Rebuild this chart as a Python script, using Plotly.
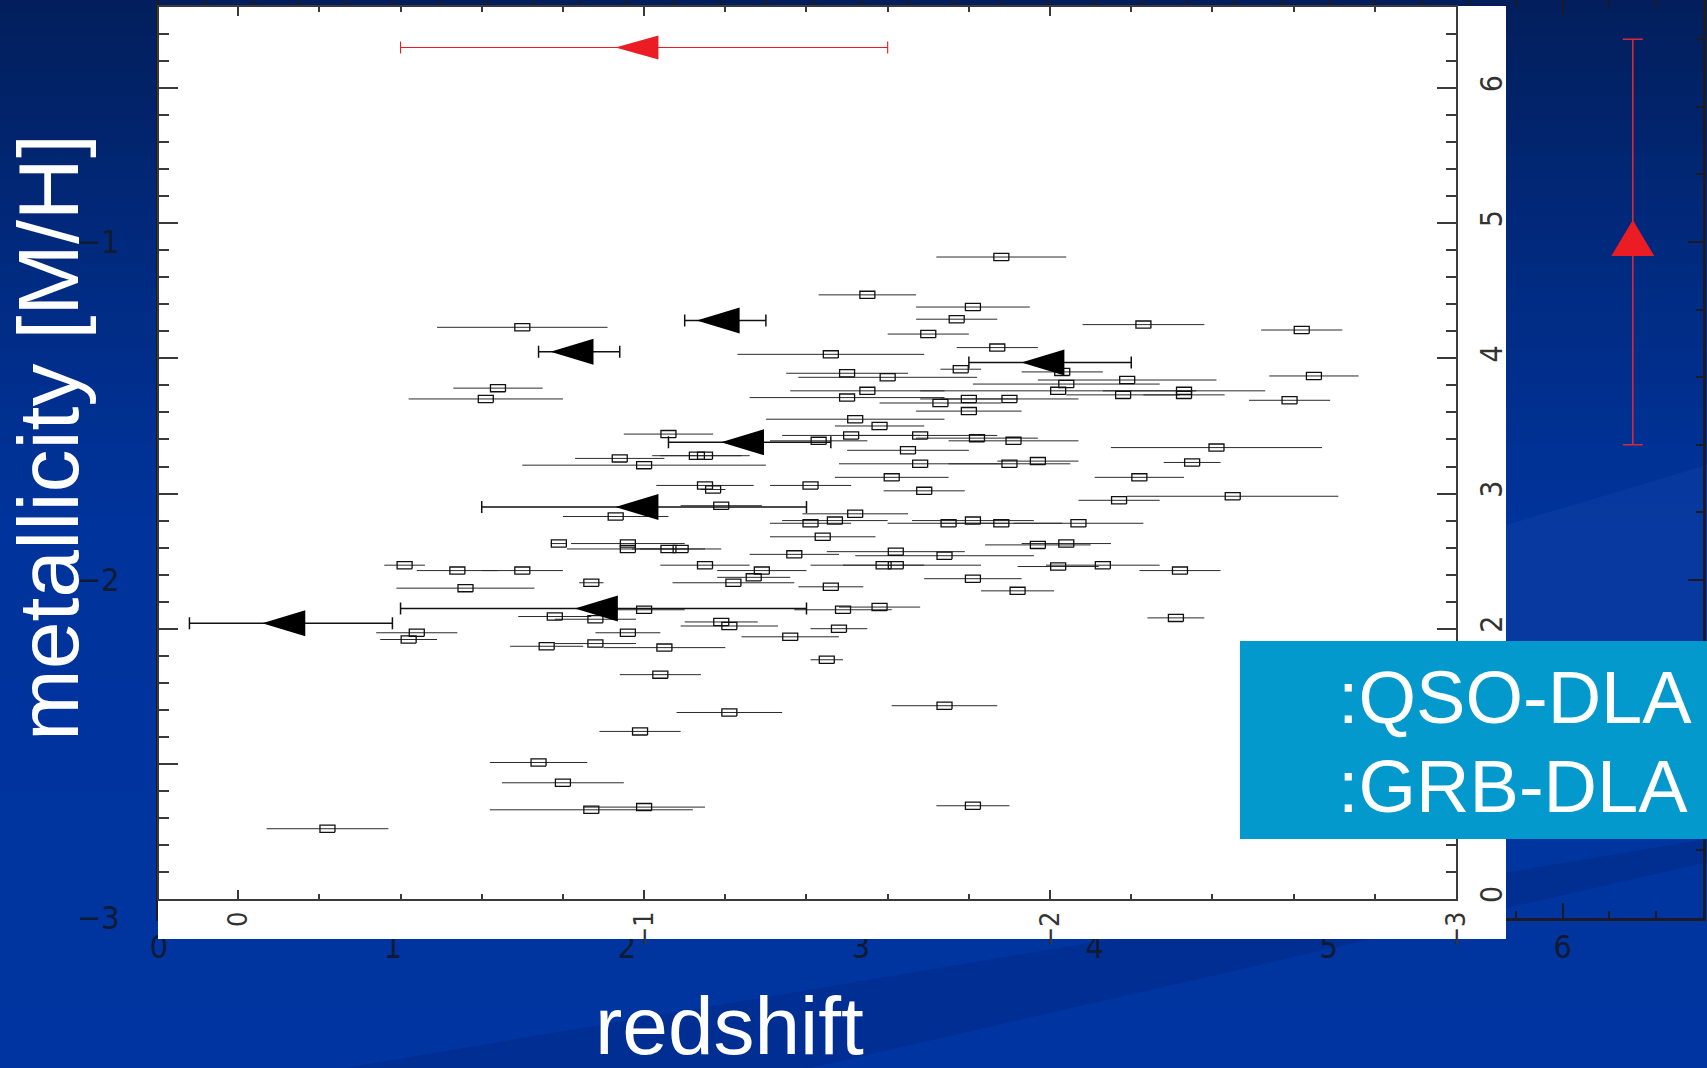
import plotly.graph_objects as go

# ---------------- data ----------------
# QSO-DLA sample: metallicity [M/H], redshift, 1-sigma error on [M/H]
qso_mh = [
    -1.88, -1.55, -1.81, -1.77, -0.70, -2.23, -2.62, -1.70, -1.87, -1.46,
    -2.03, -1.78, -1.50, -1.60, -2.65, -0.64, -1.55, -2.19, -2.04, -2.02,
    -2.33, -2.33, -2.18, -0.61, -1.50, -1.73, -1.80, -1.90, -2.59, -1.80,
    -1.52, -1.58, -1.06, -1.51, -1.68, -1.82, -1.91, -1.43, -2.41, -1.65,
    -0.94, -1.13, -1.15, -2.35, -1.68, -1.90, -1.97, -1.00, -1.61, -1.41,
    -2.22, -1.15, -1.17, -1.69, -2.45, -2.17, -1.19, -1.52, -0.93, -1.41,
    -1.47, -1.75, -1.81, -1.88, -2.07, -1.44, -0.79, -0.96, -0.96, -1.06,
    -1.09, -1.37, -1.62, -1.74, -1.97, -2.04, -0.41, -0.54, -0.70, -1.15,
    -1.29, -1.59, -1.62, -2.02, -2.13, -2.32, -1.27, -1.81, -1.22, -0.56,
    -0.87, -1.46, -1.92, -1.00, -1.49, -1.58, -0.78, -0.88, -1.19, -1.21,
    -2.31, -0.44, -0.96, -1.48, -0.42, -0.88, -0.76, -1.05, -1.36, -1.45,
    -1.04, -1.21, -1.74, -0.99, -0.74, -0.80, -1.00, -0.87, -1.81, -0.22,
]
qso_z = [
    4.75, 4.47, 4.38, 4.29, 4.23, 4.25, 4.21, 4.18, 4.08, 4.03,
    3.90, 3.92, 3.89, 3.86, 3.87, 3.78, 3.76, 3.84, 3.81, 3.76,
    3.76, 3.73, 3.73, 3.70, 3.71, 3.67, 3.70, 3.70, 3.69, 3.61,
    3.55, 3.50, 3.44, 3.43, 3.43, 3.41, 3.39, 3.39, 3.34, 3.32,
    3.26, 3.28, 3.28, 3.23, 3.22, 3.22, 3.24, 3.21, 3.12, 3.06,
    3.12, 3.06, 3.03, 3.02, 2.98, 2.95, 2.91, 2.85, 2.83, 2.78,
    2.80, 2.78, 2.80, 2.78, 2.78, 2.68, 2.63, 2.63, 2.59, 2.59,
    2.59, 2.55, 2.57, 2.54, 2.62, 2.63, 2.47, 2.43, 2.43, 2.47,
    2.43, 2.47, 2.47, 2.46, 2.47, 2.43, 2.38, 2.37, 2.34, 2.30,
    2.34, 2.31, 2.28, 2.14, 2.14, 2.16, 2.09, 2.07, 2.05, 2.02,
    2.08, 1.97, 1.97, 2.00, 1.92, 1.89, 1.87, 1.86, 1.94, 1.77,
    1.66, 1.38, 1.43, 1.24, 1.01, 0.86, 0.68, 0.66, 0.69, 0.52,
]
qso_err = [
    0.16, 0.12, 0.14, 0.10, 0.21, 0.15, 0.10, 0.10, 0.10, 0.23,
    0.10, 0.05, 0.15, 0.22, 0.11, 0.11, 0.19, 0.22, 0.23, 0.34,
    0.20, 0.10, 0.14, 0.19, 0.24, 0.15, 0.12, 0.17, 0.10, 0.13,
    0.22, 0.11, 0.11, 0.17, 0.19, 0.15, 0.16, 0.12, 0.26, 0.15,
    0.11, 0.11, 0.11, 0.07, 0.20, 0.15, 0.10, 0.30, 0.14, 0.10,
    0.11, 0.12, 0.03, 0.10, 0.26, 0.10, 0.10, 0.13, 0.13, 0.10,
    0.13, 0.15, 0.15, 0.15, 0.16, 0.13, 0.02, 0.14, 0.15, 0.09,
    0.10, 0.11, 0.17, 0.22, 0.13, 0.11, 0.05, 0.10, 0.10, 0.11,
    0.11, 0.10, 0.21, 0.10, 0.14, 0.10, 0.09, 0.12, 0.15, 0.17,
    0.03, 0.08, 0.09, 0.10, 0.12, 0.10, 0.09, 0.10, 0.09, 0.12,
    0.07, 0.10, 0.08, 0.07, 0.07, 0.10, 0.09, 0.15, 0.12, 0.04,
    0.10, 0.13, 0.13, 0.10, 0.12, 0.15, 0.15, 0.25, 0.09, 0.15,
]

# GRB-DLAs
grb_mh = [-1.20, -0.84, -2.00, -1.26, -1.00, -0.90, -0.13]
grb_z = [4.28, 4.05, 3.97, 3.38, 2.90, 2.15, 2.04]
grb_err = [0.10, 0.10, 0.20, 0.20, 0.40, 0.50, 0.25]

# highest-redshift burst (highlighted in red)
hl_z = [6.30]
hl_mh = [-1.00]
hl_err = [0.60]

# tick values
outer_xticks = [0, 1, 2, 3, 4, 5, 6]
outer_yticks = [-3, -2, -1]
inner_xticks = [0, -1, -2, -3]
inner_yticks = [0, 1, 2, 3, 4, 5, 6]

# ---------------- page geometry (pixels) ----------------
W, H = 1707, 1068


def dom_x(a, b):
    return [a / W, b / W]


def dom_y(top, bottom):
    return [1 - bottom / H, 1 - top / H]


OUT_X, OUT_Y = (159, 1703), (0, 918)      # outer (GRB) frame
PANEL_X, PANEL_Y = (158, 1506), (6, 939)  # white inset
IN_X, IN_Y = (159, 1456), (7, 899)        # inset frame

out_xrange = [0.0, 6.6]
out_yrange = [-3.0, -0.284]
in_xrange = [0.195, -3.0]
in_yrange = [0.0, 6.6]

out_sx = (OUT_X[1] - OUT_X[0]) / (out_xrange[1] - out_xrange[0])
out_sy = (OUT_Y[1] - OUT_Y[0]) / (out_yrange[1] - out_yrange[0])
in_sx = (IN_X[1] - IN_X[0]) / abs(in_xrange[1] - in_xrange[0])
in_sy = (IN_Y[1] - IN_Y[0]) / (in_yrange[1] - in_yrange[0])


def out_x(px):
    return out_xrange[0] + (px - OUT_X[0]) / out_sx


def out_y(py):
    return out_yrange[0] + (OUT_Y[1] - py) / out_sy


INK = "#1b1b26"
RED = "#ec1c24"
TICK_FONT = "Liberation Sans Narrow, DejaVu Sans Condensed, Liberation Sans, sans-serif"
BIG_FONT = "Liberation Sans, Arial, sans-serif"


def box_path(xs, ys, hw, hh):
    px, py = [], []
    for x, y in zip(xs, ys):
        px += [x - hw, x + hw, x + hw, x - hw, x - hw, None]
        py += [y - hh, y - hh, y + hh, y + hh, y - hh, None]
    return px, py


def tri_left_path(xs, ys, w_px, h_px):
    # x axis is reversed: a point further left on the page has a larger value
    px, py = [], []
    for x, y in zip(xs, ys):
        tip = x + (2 * w_px / 3) / in_sx
        base = x - (w_px / 3) / in_sx
        dy = (h_px / 2) / in_sy
        px += [tip, base, base, tip, None]
        py += [y, y + dy, y - dy, y, None]
    return px, py


def tri_up_path(xs, ys, half_w, up, down):
    px, py = [], []
    for x, y in zip(xs, ys):
        px += [x, x + half_w / out_sx, x - half_w / out_sx, x, None]
        py += [y + up / out_sy, y - down / out_sy, y - down / out_sy, y + up / out_sy, None]
    return px, py


fig = go.Figure()

# outer axes: the z = 6.3 burst with its error bar
fig.add_trace(go.Scatter(
    x=hl_z, y=hl_mh, mode="markers", marker=dict(size=1, color="rgba(0,0,0,0)"),
    error_y=dict(type="data", array=hl_err, visible=True, color="#d32a3c",
                 thickness=1.6, width=10),
    xaxis="x", yaxis="y", hoverinfo="skip"))
tx, ty = tri_up_path(hl_z, hl_mh, 21.5, 22, 14)
fig.add_trace(go.Scatter(
    x=tx, y=ty, mode="lines", fill="toself", fillcolor=RED,
    line=dict(width=0, color=RED), xaxis="x", yaxis="y", hoverinfo="skip"))

# white inset panel
fig.add_trace(go.Scatter(x=[0.5], y=[0.5], mode="markers",
                         marker=dict(size=1, color="rgba(0,0,0,0)"),
                         xaxis="x2", yaxis="y2", hoverinfo="skip"))

# inset: QSO-DLA error bars and open boxes
fig.add_trace(go.Scatter(
    x=qso_mh, y=qso_z, mode="markers", marker=dict(size=1, color="rgba(0,0,0,0)"),
    error_x=dict(type="data", array=qso_err, visible=True, color="#2b2b2b",
                 thickness=1, width=0),
    xaxis="x3", yaxis="y3", hoverinfo="skip"))
bx, by = box_path(qso_mh, qso_z, 7.5 / in_sx, 3.6 / in_sy)
fig.add_trace(go.Scatter(
    x=bx, y=by, mode="lines", line=dict(color="#111111", width=1.3),
    xaxis="x3", yaxis="y3", hoverinfo="skip"))

# inset: GRB-DLAs
fig.add_trace(go.Scatter(
    x=grb_mh, y=grb_z, mode="markers", marker=dict(size=1, color="rgba(0,0,0,0)"),
    error_x=dict(type="data", array=grb_err, visible=True, color="#111111",
                 thickness=1.5, width=6),
    xaxis="x3", yaxis="y3", hoverinfo="skip"))
gx, gy = tri_left_path(grb_mh, grb_z, 43, 26)
fig.add_trace(go.Scatter(
    x=gx, y=gy, mode="lines", fill="toself", fillcolor="#000000",
    line=dict(width=0, color="#000000"), xaxis="x3", yaxis="y3", hoverinfo="skip"))

# inset: the z = 6.3 burst in red
fig.add_trace(go.Scatter(
    x=hl_mh, y=hl_z, mode="markers", marker=dict(size=1, color="rgba(0,0,0,0)"),
    error_x=dict(type="data", array=hl_err, visible=True, color=RED,
                 thickness=1.1, width=6),
    xaxis="x3", yaxis="y3", hoverinfo="skip"))
rx, ry = tri_left_path(hl_mh, hl_z, 43, 24)
fig.add_trace(go.Scatter(
    x=rx, y=ry, mode="lines", fill="toself", fillcolor=RED,
    line=dict(width=0, color=RED), xaxis="x3", yaxis="y3", hoverinfo="skip"))

# ---------------- background ----------------
shapes = []
stops = [(0, (2, 30, 92)), (300, (1, 44, 132)), (520, (0, 51, 155)), (H, (0, 52, 160))]


def color_at(y):
    for (y0, c0), (y1, c1) in zip(stops[:-1], stops[1:]):
        if y0 <= y <= y1:
            t = (y - y0) / (y1 - y0)
            return "rgb(%d,%d,%d)" % tuple(round(a + (b - a) * t) for a, b in zip(c0, c1))
    return "rgb(%d,%d,%d)" % stops[-1][1]


step = 12
for y in range(0, H, step):
    shapes.append(dict(type="rect", xref="paper", yref="paper", layer="below",
                       x0=0, x1=1, y0=1 - (y + step + 1) / H, y1=1 - y / H,
                       fillcolor=color_at(y + step / 2), line=dict(width=0)))


def paper_path(pts):
    return "M " + " L ".join("%.5f,%.5f" % (x / W, 1 - y / H) for x, y in pts) + " Z"


# soft diagonal bands of the slide background
shapes.append(dict(type="path", xref="paper", yref="paper", layer="below",
                   path=paper_path([(1506, 525), (W, 465), (W, 645), (1506, 645)]),
                   fillcolor="rgba(120,160,255,0.06)", line=dict(width=0)))
shapes.append(dict(type="path", xref="paper", yref="paper", layer="below",
                   path=paper_path([(345, H), (W, 839), (W, 862), (810, H)]),
                   fillcolor="rgba(0,10,60,0.13)", line=dict(width=0)))

# legend box
shapes.append(dict(type="rect", xref="paper", yref="paper", layer="above",
                   x0=1240 / W, x1=1.0, y0=1 - 839 / H, y1=1 - 641 / H,
                   fillcolor="#0399cc", line=dict(width=0)))

# slide texts, anchored on the outer axes so they never widen the page margins
annotations = [
    dict(text=":QSO-DLA", x=out_x(1336), y=out_y(697), xref="x", yref="y",
         xanchor="left", yanchor="middle", showarrow=False,
         font=dict(family=BIG_FONT, size=74, color="white")),
    dict(text=":GRB-DLA", x=out_x(1336), y=out_y(786), xref="x", yref="y",
         xanchor="left", yanchor="middle", showarrow=False,
         font=dict(family=BIG_FONT, size=74, color="white")),
    dict(text="redshift", x=out_x(729), y=out_yrange[0], yshift=-(1025 - OUT_Y[1]),
         xref="x", yref="y", xanchor="center", yanchor="middle", showarrow=False,
         font=dict(family=BIG_FONT, size=82, color="white")),
    dict(text="metallicity [M/H]", x=out_xrange[0], xshift=48 - OUT_X[0], y=out_y(438),
         xref="x", yref="y", xanchor="center", yanchor="middle", showarrow=False,
         textangle=-90, font=dict(family=BIG_FONT, size=86, color="white")),
]

hidden = dict(showline=False, showticklabels=False, ticks="", showgrid=False,
              zeroline=False, fixedrange=True)

fig.update_layout(
    width=W, height=H, autosize=False,
    margin=dict(l=0, r=0, t=0, b=0, pad=0),
    paper_bgcolor="rgb(0,52,160)", plot_bgcolor="white",
    showlegend=False, hovermode=False,
    shapes=shapes, annotations=annotations,
    xaxis=dict(domain=dom_x(*OUT_X), range=out_xrange, anchor="y", automargin=False,
               tickmode="array", tickvals=outer_xticks,
               ticks="inside", ticklen=15, tickwidth=2, tickcolor=INK,
               minor=dict(tick0=0, dtick=0.2, ticks="inside", ticklen=7,
                          tickwidth=2, tickcolor=INK),
               showline=True, linewidth=3, linecolor=INK, mirror="ticks",
               showgrid=False, zeroline=False, ticklabelstandoff=-1,
               tickfont=dict(family=TICK_FONT, size=32, color="#101a33")),
    yaxis=dict(domain=dom_y(*OUT_Y), range=out_yrange, anchor="x", automargin=False,
               tickmode="array", tickvals=outer_yticks,
               ticks="inside", ticklen=15, tickwidth=2, tickcolor=INK,
               minor=dict(tick0=0, dtick=0.2, ticks="inside", ticklen=7,
                          tickwidth=2, tickcolor=INK),
               showline=True, linewidth=3, linecolor=INK, mirror="ticks",
               showgrid=False, zeroline=False, ticklabelstandoff=30,
               tickfont=dict(family=TICK_FONT, size=32, color="#101a33")),
    xaxis2=dict(domain=dom_x(*PANEL_X), range=[0, 1], anchor="y2", automargin=False, **hidden),
    yaxis2=dict(domain=dom_y(*PANEL_Y), range=[0, 1], anchor="x2", automargin=False, **hidden),
    xaxis3=dict(domain=dom_x(*IN_X), range=in_xrange, anchor="y3", automargin=False,
                tickmode="array", tickvals=inner_xticks, tickangle=-90,
                ticks="inside", ticklen=9, tickwidth=1.5, tickcolor="#3a3a3a",
                minor=dict(tick0=0, dtick=0.2, ticks="inside", ticklen=5,
                           tickwidth=1.5, tickcolor="#3a3a3a"),
                showline=True, linewidth=1.5, linecolor="#3a3a3a", mirror="ticks",
                showgrid=False, zeroline=False, ticklabelstandoff=0,
                tickfont=dict(family=TICK_FONT, size=27, color="#333333")),
    yaxis3=dict(domain=dom_y(*IN_Y), range=in_yrange, anchor="x3", side="right",
                automargin=False,
                tickmode="array", tickvals=inner_yticks, tickangle=-90,
                ticks="inside", ticklen=19, tickwidth=1.5, tickcolor="#3a3a3a",
                minor=dict(tick0=0, dtick=0.2, ticks="inside", ticklen=10,
                           tickwidth=1.5, tickcolor="#3a3a3a"),
                showline=True, linewidth=1.5, linecolor="#3a3a3a", mirror="ticks",
                showgrid=False, zeroline=False, ticklabelstandoff=8,
                tickfont=dict(family=TICK_FONT, size=30, color="#333333")),
)

fig.write_html("out.html", config=dict(displayModeBar=False))
